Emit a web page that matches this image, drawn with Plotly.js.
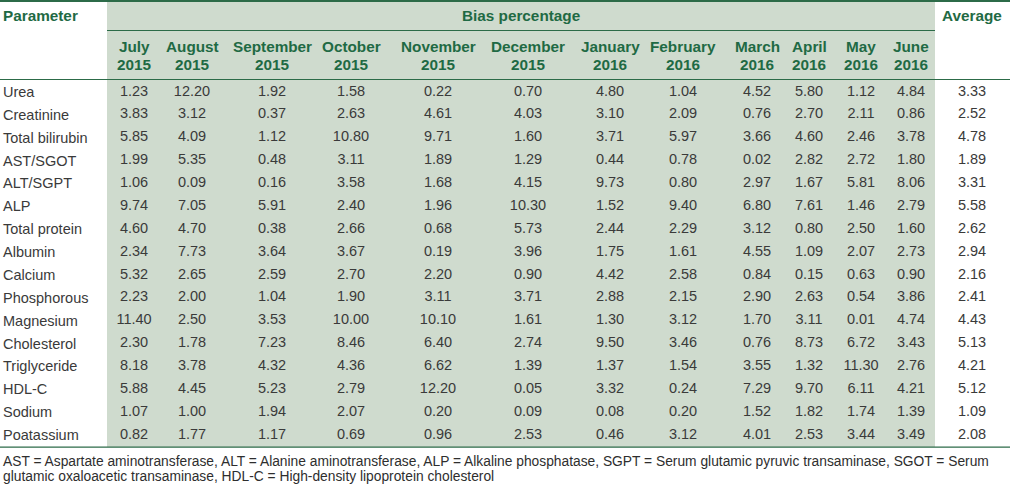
<!DOCTYPE html>
<html>
<head>
<meta charset="utf-8">
<script src="https://cdn.plot.ly/plotly-3.0.1.min.js"></script>
<style>html,body{margin:0;padding:0;background:#fff;}#chart{width:1010px;height:485px;}</style>
</head>
<body>
<div id="chart"></div>
<script>
// ---- Data ----
var parameters = ["Urea","Creatinine","Total bilirubin","AST/SGOT","ALT/SGPT","ALP","Total protein","Albumin","Calcium","Phosphorous","Magnesium","Cholesterol","Triglyceride","HDL-C","Sodium","Poatassium"];
var monthNames = ["July","August","September","October","November","December","January","February","March","April","May","June"];
var monthYears = ["2015","2015","2015","2015","2015","2015","2016","2016","2016","2016","2016","2016"];
var jul2015 = [1.23,3.83,5.85,1.99,1.06,9.74,4.60,2.34,5.32,2.23,11.40,2.30,8.18,5.88,1.07,0.82];
var aug2015 = [12.20,3.12,4.09,5.35,0.09,7.05,4.70,7.73,2.65,2.00,2.50,1.78,3.78,4.45,1.00,1.77];
var sep2015 = [1.92,0.37,1.12,0.48,0.16,5.91,0.38,3.64,2.59,1.04,3.53,7.23,4.32,5.23,1.94,1.17];
var oct2015 = [1.58,2.63,10.80,3.11,3.58,2.40,2.66,3.67,2.70,1.90,10.00,8.46,4.36,2.79,2.07,0.69];
var nov2015 = [0.22,4.61,9.71,1.89,1.68,1.96,0.68,0.19,2.20,3.11,10.10,6.40,6.62,12.20,0.20,0.96];
var dec2015 = [0.70,4.03,1.60,1.29,4.15,10.30,5.73,3.96,0.90,3.71,1.61,2.74,1.39,0.05,0.09,2.53];
var jan2016 = [4.80,3.10,3.71,0.44,9.73,1.52,2.44,1.75,4.42,2.88,1.30,9.50,1.37,3.32,0.08,0.46];
var feb2016 = [1.04,2.09,5.97,0.78,0.80,9.40,2.29,1.61,2.58,2.15,3.12,3.46,1.54,0.24,0.20,3.12];
var mar2016 = [4.52,0.76,3.66,0.02,2.97,6.80,3.12,4.55,0.84,2.90,1.70,0.76,3.55,7.29,1.52,4.01];
var apr2016 = [5.80,2.70,4.60,2.82,1.67,7.61,0.80,1.09,0.15,2.63,3.11,8.73,1.32,9.70,1.82,2.53];
var may2016 = [1.12,2.11,2.46,2.72,5.81,1.46,2.50,2.07,0.63,0.54,0.01,6.72,11.30,6.11,1.74,3.44];
var jun2016 = [4.84,0.86,3.78,1.80,8.06,2.79,1.60,2.73,0.90,3.86,4.74,3.43,2.76,4.21,1.39,3.49];
var average = [3.33,2.52,4.78,1.89,3.31,5.58,2.62,2.94,2.16,2.41,4.43,5.13,4.21,5.12,1.09,2.08];
var monthSeries = [jul2015,aug2015,sep2015,oct2015,nov2015,dec2015,jan2016,feb2016,mar2016,apr2016,may2016,jun2016];
var footnote = ["AST = Aspartate aminotransferase, ALT = Alanine aminotransferase, ALP = Alkaline phosphatase, SGPT = Serum glutamic pyruvic transaminase, SGOT = Serum",
                "glutamic oxaloacetic transaminase, HDL-C = High-density lipoprotein cholesterol"];

// ---- Layout constants (pixel geometry) ----
var W = 1010, H = 485;
var colX = [134,192,272,351,438,528,610,683,757,809,861,911];
var avgX = 972;
var shadeX0 = 107, shadeX1 = 935;
var rowTop = 92, rowPitch = 22.87;
var headerLineY = 79.5, subLineY = 30.5, bottomLineY = rowTop + 15*rowPitch + 12;
var green = "#1f6a44", lineGreen = "#2c6b48", shade = "#cfdbce", txt = "#3a3a3a";
var FONT = "Liberation Sans, Arial, sans-serif";
var dataSize = 14.5, hdrSize = 15.3, noteSize = 13.8;

function rowY(i){ return rowTop + i*rowPitch; }

var traces = [];
function addColumn(series, x){
  traces.push({
    type: "scatter", mode: "text",
    x: series.map(function(){ return x; }),
    y: series.map(function(v,i){ return rowY(i); }),
    text: series.map(function(v){ return v.toFixed(2); }),
    textposition: "middle center",
    textfont: {family: FONT, size: dataSize, color: txt},
    hoverinfo: "skip", showlegend: false, cliponaxis: false
  });
}
monthSeries.forEach(function(series, c){ addColumn(series, colX[c]); });
addColumn(average, avgX);

var annotations = [];
parameters.forEach(function(p,i){
  annotations.push({x: 1, y: rowY(i), xref: "x", yref: "y", text: p, showarrow: false,
    xanchor: "left", yanchor: "middle", font: {family: FONT, size: dataSize, color: txt}});
});
var hdrFont = {family: FONT, size: hdrSize, color: green, weight: "bold"};
function hdr(x, y, t, anchor){
  annotations.push({x: x, y: y, xref: "x", yref: "y", text: "<b>" + t + "</b>", showarrow: false,
    xanchor: anchor || "center", yanchor: "middle", font: hdrFont});
}
hdr(1, 15, "Parameter", "left");
hdr((shadeX0+shadeX1)/2, 15, "Bias percentage");
hdr(avgX, 15, "Average");
monthNames.forEach(function(m,c){ hdr(colX[c], 46, m); hdr(colX[c], 64, monthYears[c]); });
footnote.forEach(function(f,k){
  annotations.push({x: 1, y: bottomLineY + 14 + k*15.5, xref: "x", yref: "y", text: f, showarrow: false,
    xanchor: "left", yanchor: "middle", font: {family: FONT, size: noteSize, color: "#2e2e2e"}});
});

var shapes = [
  {type: "rect", xref: "x", yref: "y", x0: shadeX0, x1: shadeX1, y0: 1.5, y1: bottomLineY, fillcolor: shade, line: {width: 0}, layer: "below"},
  {type: "line", xref: "x", yref: "y", x0: 0, x1: W, y0: 1, y1: 1, line: {color: lineGreen, width: 2}},
  {type: "line", xref: "x", yref: "y", x0: shadeX0, x1: shadeX1, y0: subLineY, y1: subLineY, line: {color: lineGreen, width: 1.2}},
  {type: "line", xref: "x", yref: "y", x0: 0, x1: W, y0: headerLineY, y1: headerLineY, line: {color: lineGreen, width: 1.2}},
  {type: "line", xref: "x", yref: "y", x0: 0, x1: W, y0: bottomLineY, y1: bottomLineY, line: {color: lineGreen, width: 1.2}}
];

var layout = {
  width: W, height: H,
  margin: {l: 0, r: 0, t: 0, b: 0, pad: 0},
  paper_bgcolor: "#fff", plot_bgcolor: "#fff",
  xaxis: {range: [0, W], visible: false, fixedrange: true},
  yaxis: {range: [H, 0], visible: false, fixedrange: true},
  showlegend: false, hovermode: false,
  shapes: shapes, annotations: annotations
};
Plotly.newPlot("chart", traces, layout, {displayModeBar: false, staticPlot: true});
</script>
</body>
</html>
